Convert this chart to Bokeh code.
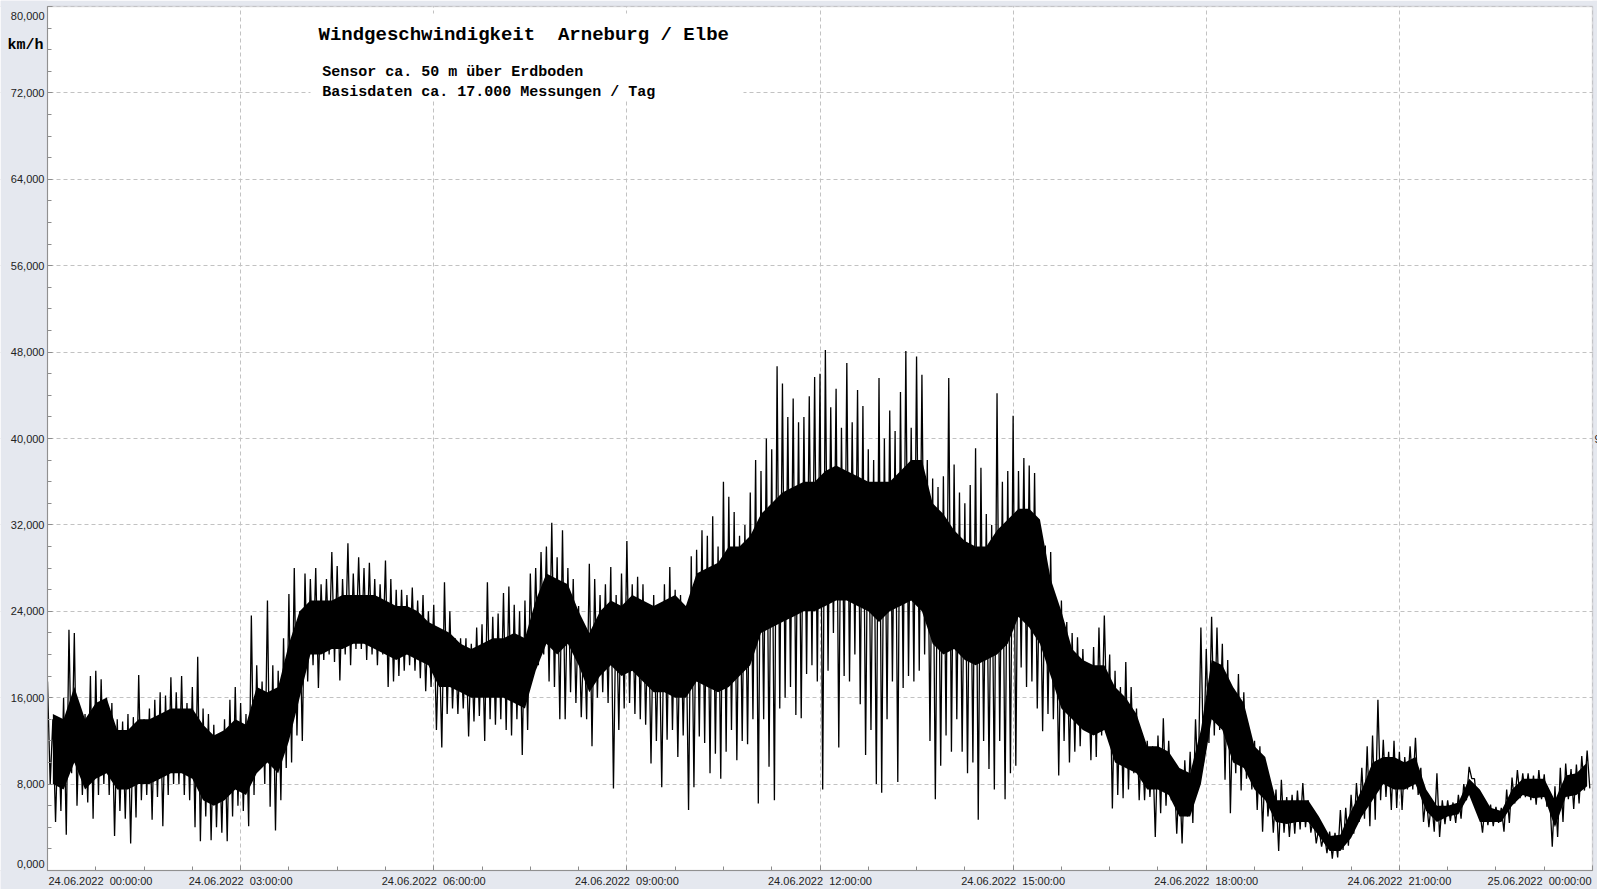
import numpy as np
from bokeh.plotting import figure
from bokeh.models import Range1d, FixedTicker, Label, BoxAnnotation
from bokeh.embed import file_html
from bokeh.resources import INLINE

# ---- data (km/h): 5-minute peak (hi) and trough (lo) values ----
hi = [
    17.5, 14, 13.5, 16, 22.3, 22, 15, 14.5, 18, 18.5, 17.7, 16,
    15.5, 14, 13.8, 14.5, 14.2, 18.1, 14, 15, 15.8, 16.5, 16.2, 17.9,
    16.5, 18, 15.5, 17, 19.8, 15, 14.5, 13.5, 12.5, 14, 15.8, 17,
    15.5, 14.5, 23.6, 19, 17.5, 25, 19, 18.5, 21.5, 25.6, 28, 24,
    27.5, 27, 28, 26.5, 27, 29.5, 28.2, 27, 30.3, 27.5, 29, 28,
    28.5, 27, 26.5, 28.7, 27, 26, 26, 25.5, 26.2, 25, 25.5, 24,
    24.6, 22, 26.7, 24, 21.5, 21.5, 21.5, 21, 22.5, 22.8, 26.7, 23.5,
    23.8, 25.7, 26.3, 24.6, 24, 25, 27.5, 28, 29.5, 30, 32.2, 29,
    31.5, 28, 27, 24.5, 22.5, 28.4, 27, 25.5, 26.5, 28.1, 25.5, 27.5,
    30.5, 26.5, 27.2, 26.5, 24.5, 25.5, 23.5, 26.5, 28.1, 26, 25.5, 24,
    29.1, 29.7, 31.5, 31, 32.8, 30, 36, 34.6, 33.2, 31, 32, 35,
    38, 37, 40, 39, 46.7, 45.1, 42, 43.7, 41.5, 42, 43.9, 45.7,
    46, 48.2, 42.9, 44.6, 41, 47, 41.5, 44.5, 43, 39, 38, 45.6,
    40, 42.6, 40.7, 44.3, 48.1, 41, 47.6, 45.9, 38, 36.3, 35.5, 36.5,
    45.6, 37.6, 35, 34, 35.7, 39.1, 37.3, 33, 32, 44.2, 36, 37,
    42.1, 37, 38.2, 37.5, 36.8, 30, 30.1, 29.5, 25, 25, 23, 22,
    21.6, 20.5, 19, 20.7, 22.5, 23.6, 20, 18.5, 17, 19.3, 17, 15,
    12.7, 12, 11.5, 12.5, 14.1, 12, 9.5, 9, 10.2, 11, 14, 22.5,
    20.5, 23.5, 22.5, 21, 19.5, 16, 18.2, 16.5, 12.5, 12, 11.5, 10.2,
    8, 7.5, 8.4, 6.8, 7, 7.4, 8.1, 6.5, 5, 4, 3.5, 3.6,
    3.5, 5.6, 5.8, 7, 8.1, 9.5, 11.5, 12.5, 15.8, 12.1, 11, 12,
    11, 10.5, 11.5, 12.3, 9.5, 7, 6.5, 9, 6.5, 6.5, 6.3, 7,
    8, 9.6, 8.5, 5.5, 6.2, 6.1, 5.9, 5.8, 7.5, 8.6, 9.3, 9,
    9, 8.8, 9.3, 8.9, 7.1, 7.8, 9.5, 9.9, 9.4, 9.8, 10.6, 11.1,
]
lo = [
    8, 4.5, 5.5, 3.3, 9, 6, 7, 6.3, 4.8, 7, 8, 7,
    3.2, 5.5, 4.8, 2.5, 4.9, 6.5, 7, 4.7, 6.8, 4.1, 7, 8,
    8, 7, 6.5, 4, 2.7, 5, 2.8, 4, 3.5, 2.7, 5, 6,
    5.5, 4.1, 7, 9.5, 8, 5.9, 3.7, 6.5, 9.5, 10, 12.5, 12,
    17.5, 19, 16.9, 19.5, 20, 19.3, 17.6, 20, 19, 20.5, 20.5, 19.5,
    20, 19, 20, 17, 17.5, 18, 18.5, 19, 18.5, 17.8, 16.6, 17,
    13, 11.4, 14.5, 15, 14.5, 15, 12.4, 13.8, 14.3, 12, 14, 13.5,
    14, 13, 12.5, 14, 10.7, 13, 18, 19, 20, 17.5, 17, 14,
    14, 16.5, 15.5, 14.2, 14, 11.5, 16, 16.5, 15.5, 7.6, 13, 15,
    15.5, 14.5, 14, 13.5, 9.9, 12, 7.7, 12.1, 13, 10.5, 12.5, 5.6,
    7.7, 12.4, 11.8, 9, 10.8, 8.5, 11, 13, 10.2, 12, 11.7, 14,
    6.2, 14, 9.6, 6.5, 15, 16, 17, 14.4, 14.1, 18.2, 19, 17.5,
    7.5, 18.5, 22, 11.4, 18, 17.5, 20, 15.4, 10.7, 13, 8, 7.2,
    14, 17.5, 8.2, 16.9, 18, 17.5, 18.5, 20, 12, 6.6, 9.7, 12.5,
    11, 14, 11, 9, 10, 4.7, 12, 9.4, 7.5, 12, 6.6, 9,
    9.7, 18.8, 17, 17.5, 15, 12.9, 14.5, 14, 8.8, 12, 10, 11,
    11.5, 13, 10.2, 10.5, 12.5, 13.5, 5.75, 7, 6.7, 7.5, 9, 6.5,
    6.5, 6.8, 3.1, 5.3, 6, 6.5, 3.4, 2.5, 5, 4.4, 8, 10,
    11.8, 12.5, 13, 8.4, 5.3, 9, 7.4, 8.5, 7.5, 5.6, 3.6, 5,
    3.5, 1.8, 3.5, 3.1, 3.4, 3.8, 4, 3.5, 2.5, 2.2, 1.6, 1.1,
    1.2, 1.9, 2.3, 3.4, 4.5, 4.8, 4.1, 4.7, 6.5, 6.8, 5.6, 5.8,
    5.6, 7.5, 7.5, 7, 4.5, 4, 3.6, 3.1, 4.3, 4.6, 4.4, 4.8,
    6.5, 8.5, 6, 3.5, 4.2, 4.1, 4.4, 3.6, 4.4, 6.2, 6.7, 6.8,
    6.5, 6.1, 6.6, 5.9, 2.2, 3.1, 4.5, 6.6, 5.7, 6.2, 7.4, 7.6,
]
# dense core of the trace, 10-minute readings
core_hi = [
    14.5, 14, 17, 14, 15.5, 16,
    13, 13, 14, 14, 14.5, 15,
    15, 15, 13.5, 12.5, 13, 14,
    13.5, 17, 16.5, 17, 21, 24,
    25, 25, 25, 25.5, 25.5, 25.5,
    25.5, 25, 24.5, 24.5, 24, 23,
    22.5, 22, 21, 20.5, 21, 21.5,
    21.5, 22, 21.5, 25, 27.5, 27,
    26.5, 24, 22, 24, 25, 24.5,
    25.5, 25, 24.5, 25, 25.5, 24.5,
    27.5, 28, 28.5, 30, 30, 31,
    33, 34, 35, 35.5, 36, 36,
    37, 37.5, 37, 36.5, 36, 36,
    36, 37, 38, 38, 34, 33,
    31.5, 30.5, 30, 30, 31.5, 32.5,
    33.5, 33.5, 32.5, 27, 24, 20.5,
    19.5, 19, 19, 17, 16, 14.5,
    11.5, 11.5, 11, 9.5, 9, 13,
    19.5, 19, 17, 15.5, 11.5, 10.5,
    6.5, 6.5, 6.5, 6.5, 5, 3.2,
    3.3, 5.5, 7.5, 10, 10.5, 10.5,
    10, 10.5, 7.5, 6, 6, 6.3,
    8.5, 7.5, 5.8, 5.5, 7.5, 8.5,
    8.5, 8.5, 6.5, 8.8, 9, 10,
]
core_lo = [
    8, 7.5, 10, 7.5, 8.5, 9,
    7.5, 7.5, 8, 8, 8.5, 9,
    9, 8.5, 6.5, 6, 6.5, 7.5,
    7, 9, 10, 9, 12, 16,
    20, 20, 20.5, 20.5, 21, 21,
    20.5, 20, 19.5, 20, 19.5, 19,
    17, 17, 16.5, 16, 16, 16,
    16, 15.5, 15, 18.5, 21, 20,
    21, 19, 16.5, 18, 19, 18,
    18.5, 17.5, 16.5, 16.5, 16, 16,
    17.5, 17, 16.5, 17, 18, 19,
    22, 22.5, 23, 23.5, 24, 24,
    24.5, 25, 25, 24.5, 24, 23,
    24, 24.5, 25, 24, 21, 20,
    20.5, 19.5, 19, 19.5, 20, 21,
    23.5, 22.5, 21, 18, 15, 14,
    13, 12.5, 13, 10, 9.5, 9,
    7.5, 7.5, 7, 5, 5, 8,
    14, 13, 10, 9.5, 7.5, 6.5,
    4.5, 4.3, 4.5, 4.5, 3.2, 1.8,
    1.8, 3, 5, 6.5, 8, 7.5,
    7.5, 8, 5.5, 4.5, 5, 5.2,
    7, 4.5, 4.5, 4.5, 6, 7,
    6.7, 6.8, 4, 6.8, 7, 7.8,
]
sample_minutes = 5.0
core_minutes = 10.0

NB = "\u00a0"
x_ticks = [0, 3, 6, 9, 12, 15, 18, 21, 24]
x_tick_labels = ["24.06.2022  00:00:00", "24.06.2022  03:00:00", "24.06.2022  06:00:00",
                 "24.06.2022  09:00:00", "24.06.2022  12:00:00", "24.06.2022  15:00:00",
                 "24.06.2022  18:00:00", "24.06.2022  21:00:00", "25.06.2022  00:00:00"]
y_ticks = [0, 8, 16, 24, 32, 40, 48, 56, 64, 72, 80]
y_tick_labels = ["0,000", "8,000", "16,000", "24,000", "32,000", "40,000",
                 "48,000", "56,000", "64,000", "72,000", "80,000"]

title_text = "Windgeschwindigkeit  Arneburg / Elbe"
sub1 = "Sensor ca. 50 m über Erdboden"
sub2 = "Basisdaten ca. 17.000 Messungen / Tag"
unit_text = "km/h"
right_fragment = "9"

# ---- build trace ----
n = len(hi)
t_hi = np.arange(n) * sample_minutes / 60.0
t_lo = t_hi + sample_minutes / 2 / 60.0
xs = np.empty(2 * n); ys = np.empty(2 * n)
xs[0::2] = t_hi; xs[1::2] = t_lo
ys[0::2] = hi; ys[1::2] = lo
t_core = (np.arange(len(core_hi)) * core_minutes + core_minutes / 2) / 60.0

# ---- page geometry: plot area spans x 47..1592 px and y 6..870 px of a 1597x889 canvas ----
W, H = 1597, 889
PL, PR, PT, PB = 47, 1592, 6, 870
X0, X1, Y0, Y1 = 0.0, 24.0, 0.0, 80.0
kx = (PR - PL) / (X1 - X0)     # px per hour
ky = (PB - PT) / (Y1 - Y0)     # px per km/h
x_range = Range1d(X0 - PL / kx, X1 + (W - PR) / kx)
y_range = Range1d(Y0 - (H - PB) / ky, Y1 + PT / ky)

BG = "#e5e8ef"
TICK_FONT = "Liberation Sans"
MONO = "Liberation Mono"
TICK_SIZE = "11px"
TICK_COLOR = "#222222"

p = figure(width=W, height=H, x_range=x_range, y_range=y_range,
           output_backend="svg", toolbar_location=None, min_border=0)
p.background_fill_color = "white"
p.border_fill_color = BG
p.outline_line_color = None

xl = {float(t): l.replace("  ", NB + NB) for t, l in zip(x_ticks, x_tick_labels)}
xl[float(x_ticks[0])] = ""
xl[float(x_ticks[-1])] = ""
yl = {float(t): l for t, l in zip(y_ticks, y_tick_labels)}
yl[float(y_ticks[0])] = ""
yl[float(y_ticks[-1])] = ""

p.xaxis.ticker = FixedTicker(ticks=x_ticks, minor_ticks=list(np.arange(0, 24.01, 0.75)))
p.yaxis.ticker = FixedTicker(ticks=y_ticks, minor_ticks=list(np.arange(0, 80.1, 2)))
p.xaxis.major_label_overrides = xl
p.yaxis.major_label_overrides = yl
p.xaxis.fixed_location = Y0
p.yaxis.fixed_location = X0
p.xaxis.bounds = (X0, X1)
p.yaxis.bounds = (Y0, Y1)

for ax in (p.xaxis[0], p.yaxis[0]):
    ax.axis_line_color = "#8c8c8c"
    ax.major_tick_line_color = "#8c8c8c"
    ax.minor_tick_line_color = "#8c8c8c"
    ax.major_tick_in = 5
    ax.major_tick_out = 0
    ax.minor_tick_in = 4
    ax.minor_tick_out = 0
    ax.major_label_text_font = TICK_FONT
    ax.major_label_text_font_size = TICK_SIZE
    ax.major_label_text_color = TICK_COLOR
p.xaxis.major_label_standoff = 4
p.yaxis.major_label_standoff = 3

for g in (p.xgrid[0], p.ygrid[0]):
    g.grid_line_color = "#c2c2c2"
    g.grid_line_dash = "4 3"
    g.grid_line_width = 1

p.varea(x=t_core, y1=core_lo, y2=core_hi, fill_color="black")
p.line(xs, ys, line_color="black", line_width=1.3)

# grey margins around the plot area (drawn over the grid, under the axes and texts)
for kw in (dict(right=X0), dict(left=X1), dict(bottom=Y1), dict(top=Y0)):
    p.add_layout(BoxAnnotation(fill_color=BG, fill_alpha=1.0, line_alpha=0, level="glyph", **kw))
# plot-area border
p.add_layout(BoxAnnotation(left=X0, right=X1, bottom=Y0, top=Y1, fill_alpha=0,
                           line_color="#9a9a9a", line_width=1.5))

# white box behind title block
p.add_layout(BoxAnnotation(left=X0 + (310 - PL) / kx, right=X0 + (743 - PL) / kx,
                           bottom=Y1 - (100 - PT) / ky, top=Y1 - (13 - PT) / ky,
                           fill_color="white", fill_alpha=1.0, line_alpha=0))

def lab(px, py, text, **kw):
    """Place a text at page pixel position (px, py) via the data scales."""
    p.add_layout(Label(x=X0 + (px - PL) / kx, y=Y1 - (py - PT) / ky, text=text,
                       text_baseline="middle", **kw))

lab(318, 34, title_text.replace("  ", NB + NB), text_font=MONO, text_font_style="bold",
    text_font_size="19px", text_color="black")
lab(321.7, 71.7, sub1, text_font=MONO, text_font_style="bold", text_font_size="15px",
    text_color="black")
lab(321.7, 91.7, sub2, text_font=MONO, text_font_style="bold", text_font_size="15px",
    text_color="black")
lab(7, 45, unit_text, text_font=MONO, text_font_style="bold", text_font_size="15px",
    text_color="black")
lab(1594, 438, right_fragment, text_font=TICK_FONT, text_font_size=TICK_SIZE,
    text_color=TICK_COLOR)
# edge tick labels kept inside the plot area's extent, as in the original
lab(48, 880, x_tick_labels[0].replace("  ", NB + NB), text_font=TICK_FONT,
    text_font_size=TICK_SIZE, text_color=TICK_COLOR, text_align="left")
lab(1591, 880, x_tick_labels[-1].replace("  ", NB + NB), text_font=TICK_FONT,
    text_font_size=TICK_SIZE, text_color=TICK_COLOR, text_align="right")
lab(44, 15, y_tick_labels[-1], text_font=TICK_FONT, text_font_size=TICK_SIZE,
    text_color=TICK_COLOR, text_align="right")
lab(44, 863, y_tick_labels[0], text_font=TICK_FONT, text_font_size=TICK_SIZE,
    text_color=TICK_COLOR, text_align="right")

open("out.html", "w").write(file_html(p, INLINE))
